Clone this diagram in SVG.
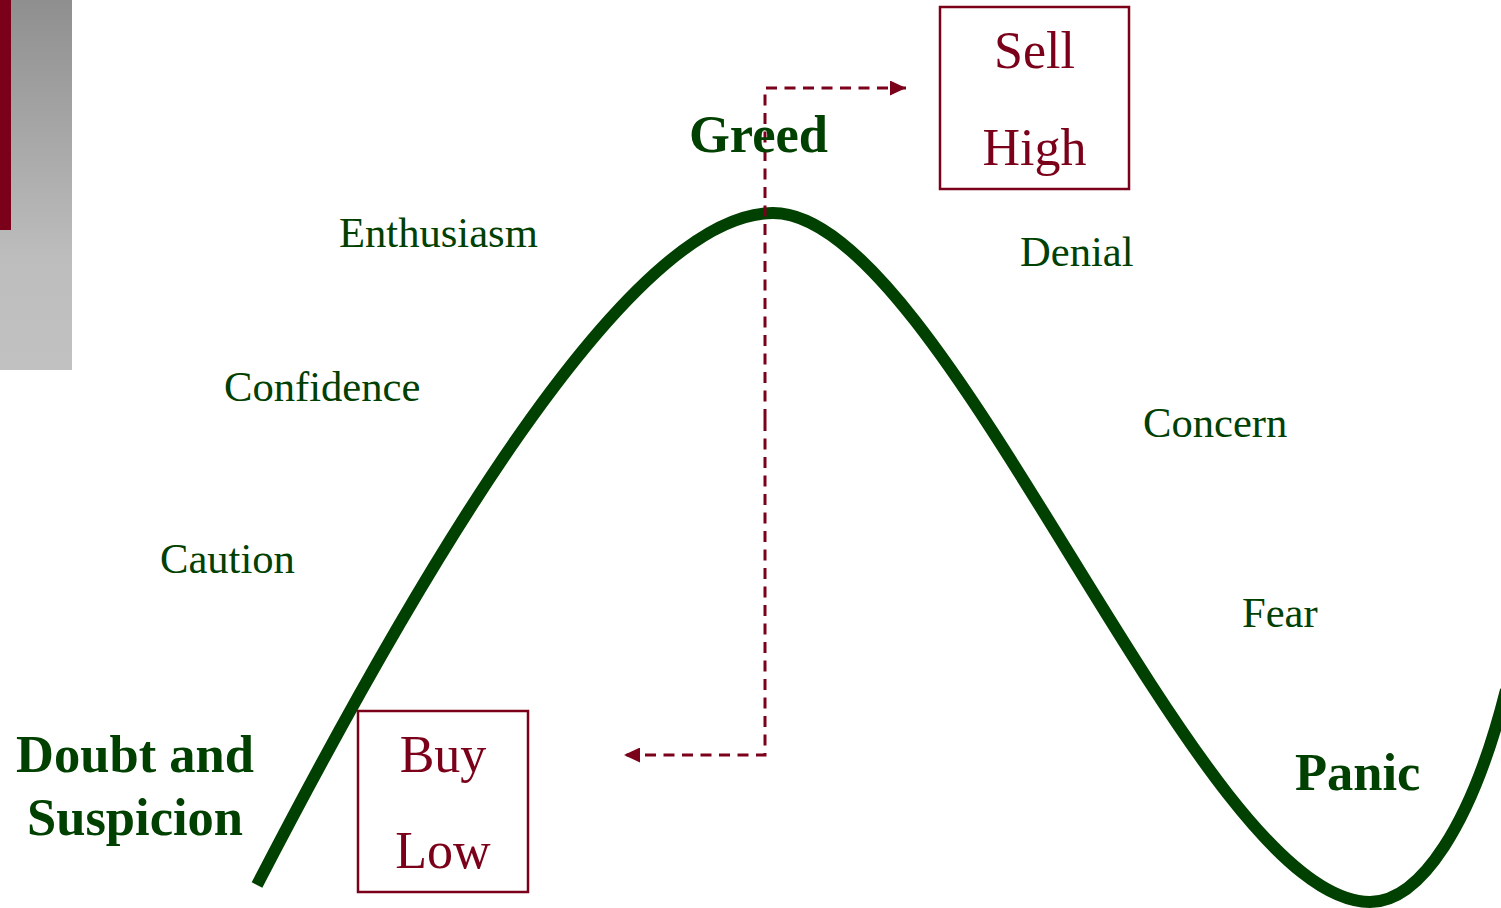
<svg xmlns="http://www.w3.org/2000/svg" width="1501" height="908" viewBox="0 0 1501 908">
  <style>
    .lbl { font-family: "Liberation Serif", "Times New Roman", serif; fill: #004000; font-size: 42.6px; }
    .big { font-family: "Liberation Serif", "Times New Roman", serif; fill: #004000; font-size: 52.5px; font-weight: bold; }
    .act { font-family: "Liberation Serif", "Times New Roman", serif; fill: #7b0019; font-size: 52px; text-anchor: middle; }
    .box { fill: none; stroke: #7b0019; stroke-width: 2.5; }
    .dash { fill: none; stroke: #7b0019; stroke-width: 3; stroke-dasharray: 11 7.5; }
  </style>
  <defs>
    <linearGradient id="gray" x1="0" y1="0" x2="0" y2="1">
      <stop offset="0" stop-color="#8f8f8f"/>
      <stop offset="0.7" stop-color="#bdbdbd"/>
      <stop offset="1" stop-color="#c1c1c1"/>
    </linearGradient>
    <marker id="arrow" markerUnits="userSpaceOnUse" markerWidth="16" markerHeight="15" refX="16" refY="7.5" orient="auto">
      <path d="M0,0 L16,7.5 L0,15 Z" fill="#7b0019"/>
    </marker>
  </defs>

  <g id="decor">
    <rect x="0" y="0" width="72" height="370" fill="url(#gray)"/>
    <rect x="0" y="0" width="11" height="230" fill="#7b0019"/>
  </g>

  <g id="curve">
    <path d="M257,885 C418,574 628,213 773,213 C946,213 1197,902 1370,902 C1420,902 1472,825 1506,690" fill="none" stroke="#004000" stroke-width="12"/>
  </g>

  <g id="connectors">
    <path class="dash" d="M765,420 V88 H906" marker-end="url(#arrow)"/>
    <path class="dash" d="M765,420 V755 H624" marker-end="url(#arrow)"/>
  </g>

  <g id="sell-high">
    <rect class="box" x="940" y="7" width="189" height="182"/>
    <text class="act" x="1034.5" y="68">Sell</text>
    <text class="act" x="1034.5" y="165">High</text>
  </g>

  <g id="buy-low">
    <rect class="box" x="358" y="711" width="170" height="181"/>
    <text class="act" x="443" y="772">Buy</text>
    <text class="act" x="443" y="868">Low</text>
  </g>

  <g id="greed"><text class="big" x="689" y="152">Greed</text></g>
  <g id="enthusiasm"><text class="lbl" x="339" y="247">Enthusiasm</text></g>
  <g id="confidence"><text class="lbl" x="224" y="401">Confidence</text></g>
  <g id="caution"><text class="lbl" x="160" y="573">Caution</text></g>
  <g id="doubt">
    <text class="big" x="135" y="772" text-anchor="middle">Doubt and</text>
    <text class="big" x="135" y="835" text-anchor="middle">Suspicion</text>
  </g>
  <g id="denial"><text class="lbl" x="1020" y="266">Denial</text></g>
  <g id="concern"><text class="lbl" x="1143" y="437">Concern</text></g>
  <g id="fear"><text class="lbl" x="1242" y="627">Fear</text></g>
  <g id="panic"><text class="big" x="1295" y="790">Panic</text></g>
</svg>
